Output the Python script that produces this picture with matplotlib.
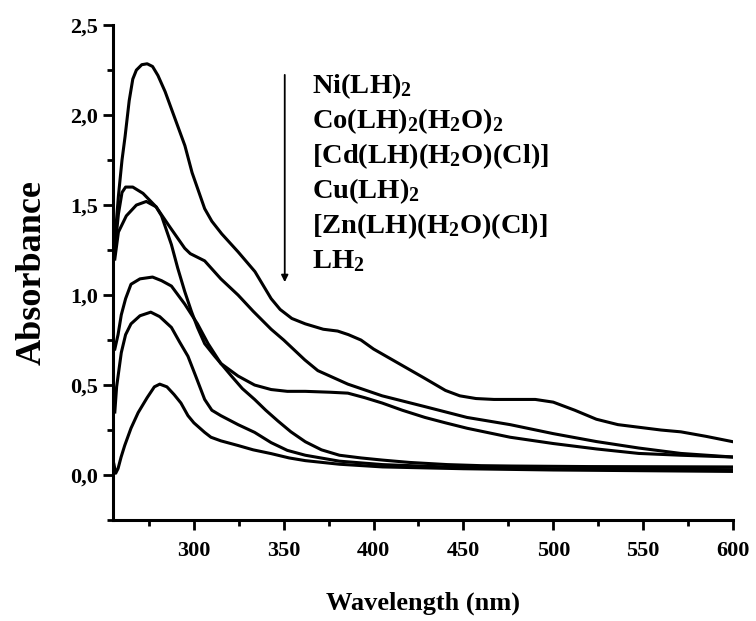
import numpy as np
import matplotlib
matplotlib.use("Agg")
import matplotlib.pyplot as plt
from matplotlib.ticker import MultipleLocator, FuncFormatter

plt.rcParams['font.family'] = ['Liberation Serif', 'DejaVu Serif']
plt.rcParams['font.weight'] = 'bold'
plt.rcParams['mathtext.fontset'] = 'custom'
plt.rcParams['mathtext.rm'] = 'Liberation Serif:bold'
plt.rcParams['mathtext.bf'] = 'Liberation Serif:bold'
plt.rcParams['mathtext.default'] = 'rm'

# Spectres UV-Vis (nm, absorbance)
ni_x = [256, 258, 260, 261.7, 264, 266, 268, 271, 274, 277, 280, 284, 289.5, 295, 299,
        306, 310, 315.5, 324.6, 334, 343, 348, 354.5, 362, 372, 380, 386, 393, 400,
        414, 428, 440, 448, 457, 467, 480, 490, 500, 512, 524, 536, 548, 560, 571, 585, 600]
ni_y = [1.30, 1.55, 1.75, 1.88, 2.08, 2.20, 2.25, 2.28, 2.285, 2.27, 2.22, 2.13, 1.98, 1.83, 1.68,
        1.48, 1.41, 1.34, 1.24, 1.13, 0.98, 0.92, 0.87, 0.84, 0.81, 0.80, 0.78, 0.75, 0.70,
        0.62, 0.54, 0.47, 0.44, 0.425, 0.42, 0.42, 0.42, 0.405, 0.36, 0.31, 0.28, 0.265, 0.25, 0.24, 0.215, 0.185]

co_x = [256, 258, 260, 262, 266, 271.7, 279, 286.5, 294.9, 298, 300, 306, 315, 324.6, 333,
        343, 350, 361.7, 369, 385.7, 404.8, 428.6, 452, 476, 500, 524, 547.6, 571, 600]
co_y = [1.25, 1.45, 1.57, 1.60, 1.60, 1.565, 1.49, 1.38, 1.26, 1.23, 1.22, 1.19, 1.09, 1.00, 0.91,
        0.81, 0.75, 0.64, 0.58, 0.505, 0.44, 0.38, 0.32, 0.28, 0.23, 0.186, 0.15, 0.12, 0.10]

cd_x = [256, 258, 262.4, 268, 273.5, 279, 282, 287.5, 291, 294.9, 298.6, 302, 306, 311.6,
        316.7, 320.9, 327, 333.8, 340, 346.8, 354, 362, 371, 381, 393, 405, 420, 441, 460, 477, 520, 600]
cd_y = [1.20, 1.35, 1.44, 1.50, 1.52, 1.49, 1.44, 1.28, 1.15, 1.02, 0.91, 0.82, 0.73, 0.66,
        0.60, 0.55, 0.48, 0.42, 0.36, 0.30, 0.24, 0.185, 0.14, 0.11, 0.095, 0.083, 0.07, 0.058, 0.052, 0.05, 0.047, 0.045]

cu_x = [256, 257.8, 259.6, 262, 265, 270, 277, 282, 287.5, 294.9, 302, 307.9, 315, 324.6,
        333.8, 343, 352, 362, 376, 385.7, 395, 404.8, 416, 428.6, 440, 452, 476, 500, 524, 547.6, 571, 600]
cu_y = [0.70, 0.78, 0.89, 0.98, 1.06, 1.09, 1.10, 1.08, 1.05, 0.95, 0.84, 0.73, 0.62, 0.55,
        0.50, 0.475, 0.465, 0.465, 0.46, 0.455, 0.43, 0.40, 0.36, 0.32, 0.29, 0.26, 0.21, 0.175, 0.145, 0.12, 0.11, 0.10]

zn_x = [256, 257, 259.6, 262, 265, 270, 276, 281, 287.5, 292, 296.7, 301, 306, 310, 315,
        324.6, 333.8, 343, 352, 362, 381, 405, 440, 500, 600]
zn_y = [0.35, 0.49, 0.68, 0.78, 0.84, 0.885, 0.905, 0.88, 0.82, 0.74, 0.66, 0.55, 0.42, 0.36, 0.33,
        0.28, 0.237, 0.18, 0.137, 0.11, 0.077, 0.058, 0.045, 0.035, 0.03]

lh2_x = [255.5, 256.5, 257.8, 259.5, 261.5, 265, 269, 274, 278, 281, 285, 289, 292.8, 296.7,
         300, 306, 309.5, 315, 324.6, 333, 343, 353, 362, 381, 405, 450, 500, 600]
lh2_y = [0.06, 0.01, 0.036, 0.10, 0.164, 0.26, 0.347, 0.43, 0.49, 0.505, 0.49, 0.447, 0.40, 0.33,
         0.29, 0.237, 0.21, 0.19, 0.164, 0.14, 0.119, 0.095, 0.08, 0.06, 0.045, 0.035, 0.028, 0.02]

labels = [r"Ni(LH)$_2$", r"Co(LH)$_2$(H$_2$O)$_2$", r"[Cd(LH)(H$_2$O)(Cl)]",
          r"Cu(LH)$_2$", r"[Zn(LH)(H$_2$O)(Cl)]", r"LH$_2$"]

x_ticks = [300, 350, 400, 450, 500, 550, 600]
y_ticks = [0.0, 0.5, 1.0, 1.5, 2.0, 2.5]

fig = plt.figure(figsize=(7.56, 6.21), dpi=100)
ax = fig.add_axes([0.1495, 0.1626, 0.820, 0.797])

series = [(ni_x, ni_y), (co_x, co_y), (cd_x, cd_y), (cu_x, cu_y), (zn_x, zn_y), (lh2_x, lh2_y)]
for sx, sy in series:
    ax.plot(sx, sy, color='black', linewidth=2.2, solid_joinstyle='round')

ax.set_xlim(255, 600)
ax.set_ylim(-0.25, 2.5)
ax.set_xticks(x_ticks)
ax.set_yticks(y_ticks)
ax.xaxis.set_minor_locator(MultipleLocator(25))
ax.yaxis.set_minor_locator(MultipleLocator(0.25))
ax.yaxis.set_major_formatter(FuncFormatter(lambda v, p: f"{v:.1f}".replace('.', ',')))

for s in ['top', 'right']:
    ax.spines[s].set_visible(False)
for s in ['left', 'bottom']:
    ax.spines[s].set_linewidth(2.2)

ax.tick_params(which='major', direction='out', length=7, width=2, labelsize=16)
ax.tick_params(axis='x', which='major', pad=8)
ax.tick_params(which='minor', direction='out', length=4, width=2)

ax.set_xlabel("Wavelength (nm)", fontsize=19, fontweight='bold', labelpad=22)
ax.set_ylabel("Absorbance", fontsize=26, fontweight='bold', labelpad=16)

# Légende sous forme de texte avec flèche
y0 = 0.8626
for i, lab in enumerate(labels):
    ax.text(0.321, y0 - i * 0.0707, lab, transform=ax.transAxes, fontsize=20.5,
            fontweight='bold', ha='left', va='baseline')
ax.annotate("", xy=(0.277, 0.475), xytext=(0.277, 0.905), xycoords='axes fraction',
            arrowprops=dict(arrowstyle='-|>', color='black', lw=1.3, mutation_scale=10))

plt.savefig("out.png", dpi=100)
